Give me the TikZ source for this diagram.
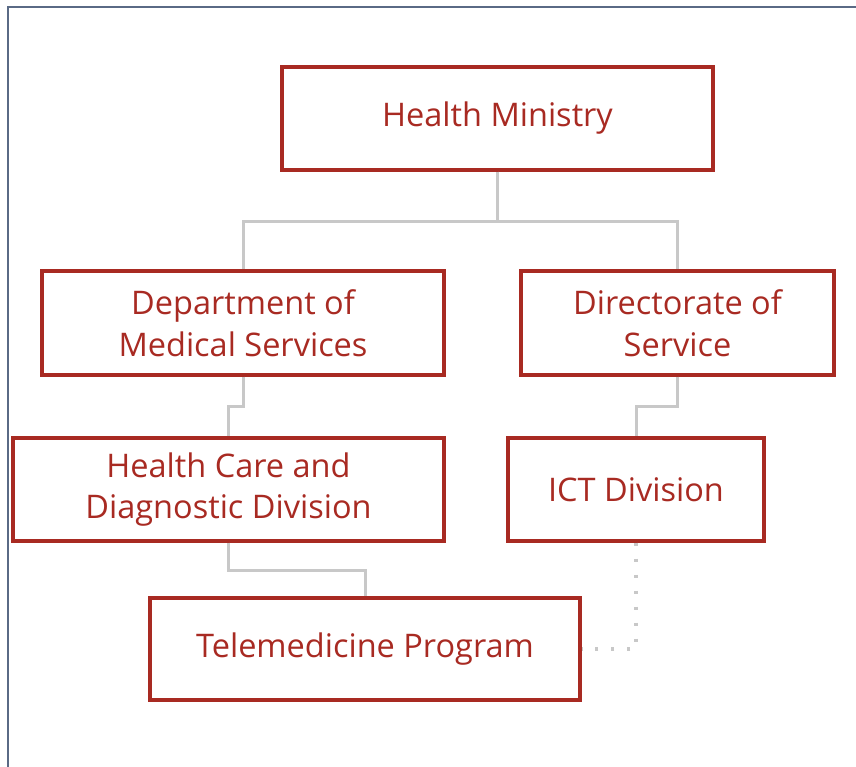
\documentclass[tikz,border=0pt]{standalone}
\usepackage{fontspec}
\setmainfont{Open Sans}
\definecolor{boxred}{HTML}{A82A22}
\definecolor{linegray}{HTML}{C8C8C8}
\definecolor{framegray}{HTML}{5A6A85}
\tikzset{
	unit/.style={draw=boxred, line width=3.4pt, text=boxred, align=center, inner sep=0pt,
		font=\fontsize{32.5}{41.5}\selectfont},
	link/.style={linegray, line width=3pt},
}
\begin{document}
	\begin{tikzpicture}[x=1pt, y=-1pt]
		\useasboundingbox (0,0) rectangle (856,766);
		\draw[framegray, line width=2pt] (7.5,780) -- (7.5,6.5) -- (870,6.5);
		\node[unit, minimum width=431pt, minimum height=103pt] (hm) at (497.5,118.5) {Health Ministry};
		\node[unit, minimum width=402pt, minimum height=104pt] (dms) at (243,323) {Department of\\Medical Services};
		\node[unit, minimum width=313pt, minimum height=104pt] (dos) at (677.5,323) {Directorate of\\Service};
		\node[unit, minimum width=431pt, minimum height=103pt] (hcd) at (228.5,489.5) {Health Care and\\Diagnostic Division};
		\node[unit, minimum width=256pt, minimum height=103pt] (ict) at (636,489.5) {ICT Division};
		\node[unit, minimum width=430pt, minimum height=102pt] (tp) at (365,649) {Telemedicine Program};
		\draw[link] (hm.south) -- ++(0,50) -| (dms.north);
		\draw[link] (hm.south) -- ++(0,50) -| (dos.north);
		\draw[link] (dms.south) -- ++(0,30) -| (hcd.north);
		\draw[link] (dos.south) -- ++(0,30) -| (ict.north);
		\draw[link] (hcd.south) -- ++(0,28) -| (tp.north);
		\draw[link, line width=3.5pt, dash pattern=on 3.5pt off 12.5pt] (ict.south) |- (tp.east);
	\end{tikzpicture}
\end{document}
